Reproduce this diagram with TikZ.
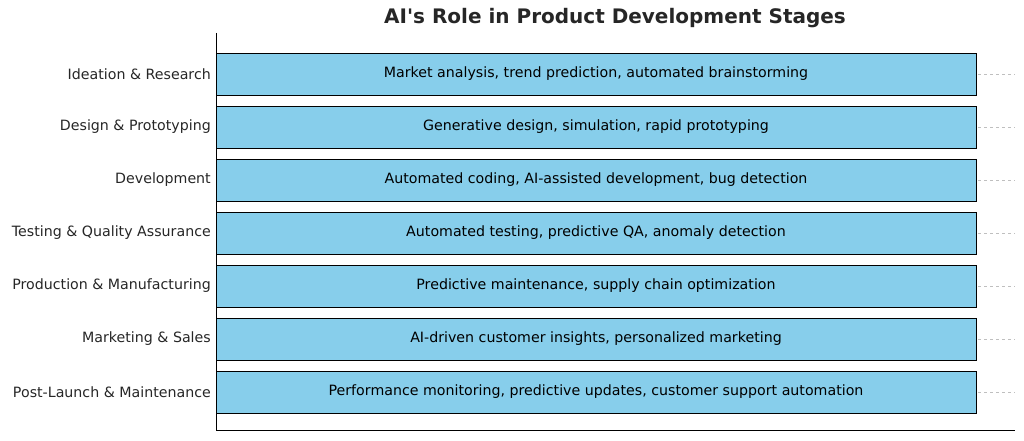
\documentclass[tikz,border=0pt]{standalone}
\usepackage{fontspec}
\setmainfont{DejaVu Sans}
\definecolor{skyb}{HTML}{87CEEB}
\definecolor{txt}{HTML}{262626}
\begin{document}
\begin{tikzpicture}[x=1pt,y=-1pt,
  bar/.style={draw=black,fill=skyb,line width=0.9pt},
  grid/.style={draw=black!25,dashed,line width=0.5pt},
  lab/.style={anchor=east,font=\fontsize{14.2}{16}\selectfont,text=txt,inner sep=0},
  intxt/.style={font=\fontsize{14.2}{16}\selectfont,text=black,inner sep=0}]
\useasboundingbox (0,0) rectangle (1024,441);
\node[font=\bfseries\fontsize{20}{24}\selectfont,text=txt] (title) at (615,18) {AI\textquotesingle s Role in Product Development Stages};
\foreach \i/\s/\t in {0/Ideation \& Research/{Market analysis, trend prediction, automated brainstorming},
 1/Design \& Prototyping/{Generative design, simulation, rapid prototyping},
 2/Development/{Automated coding, AI-assisted development, bug detection},
 3/Testing \& Quality Assurance/{Automated testing, predictive QA, anomaly detection},
 4/Production \& Manufacturing/{Predictive maintenance, supply chain optimization},
 5/Marketing \& Sales/{AI-driven customer insights, personalized marketing},
 6/Post-Launch \& Maintenance/{Performance monitoring, predictive updates, customer support automation}}{
  \pgfmathsetmacro\yc{74+53*\i}
  \draw[grid] (216,\yc) -- (1015,\yc);
  \draw[bar] (216,\yc-21) rectangle (976,\yc+21);
  \node[intxt] (b\i) at (596,\yc) {\t};
  \node[lab] (l\i) at (211,\yc) {\s};
}
\draw[line width=0.9pt] (216,33) -- (216,430) -- (1015,430);
\end{tikzpicture}
\end{document}
